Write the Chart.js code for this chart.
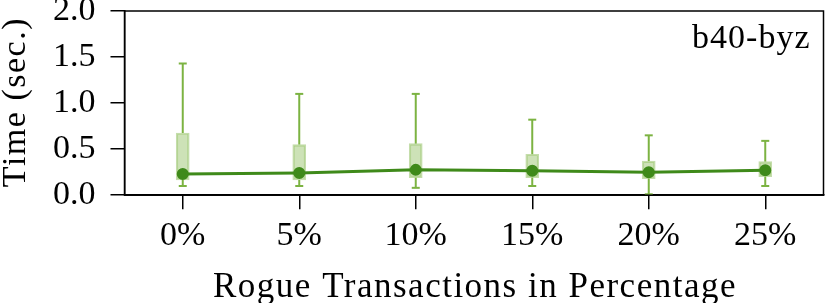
<!DOCTYPE html>
<html>
<head>
<meta charset="utf-8">
<script src="https://cdn.jsdelivr.net/npm/chart.js@4"></script>
<style>
  html, body { margin: 0; padding: 0; background: #fff; }
  #wrap { width: 831px; height: 303px; }
</style>
</head>
<body>
<div id="wrap"><canvas id="chart"></canvas></div>
<script>
const categories = ['0%', '5%', '10%', '15%', '20%', '25%'];
const whiskerLow = [0.10, 0.10, 0.08, 0.10, 0.01, 0.10];
const boxLow = [0.165, 0.165, 0.19, 0.19, 0.18, 0.20];
const medians = [0.23, 0.24, 0.275, 0.265, 0.25, 0.27];
const boxHigh = [0.675, 0.55, 0.56, 0.445, 0.37, 0.365];
const whiskerHigh = [1.43, 1.10, 1.10, 0.82, 0.65, 0.59];
const yTicks = [0, 0.5, 1.0, 1.5, 2.0];

const serif = '"Liberation Serif", "DejaVu Serif", serif';
const fontSize = 34;
const lightGreen = '#7cb342';
const darkGreen = '#3f8a1a';

// whiskers, frame, axis titles and label
const boxExtras = {
  id: 'boxExtras',
  beforeDatasetsDraw(chart) {
    const { ctx, scales: { x, y } } = chart;
    ctx.save();
    ctx.strokeStyle = lightGreen;
    ctx.lineWidth = 2;
    categories.forEach((c, i) => {
      const px = x.getPixelForValue(i);
      [[boxHigh[i], whiskerHigh[i]], [whiskerLow[i], boxLow[i]]].forEach(([a, b]) => {
        ctx.beginPath();
        ctx.moveTo(px, y.getPixelForValue(a));
        ctx.lineTo(px, y.getPixelForValue(b));
        ctx.stroke();
      });
      [whiskerHigh[i], whiskerLow[i]].forEach(v => {
        const py = y.getPixelForValue(v);
        ctx.beginPath();
        ctx.moveTo(px - 4, py);
        ctx.lineTo(px + 4, py);
        ctx.stroke();
      });
    });
    ctx.restore();
  },
  afterDraw(chart) {
    const { ctx, chartArea: a } = chart;
    ctx.save();
    ctx.strokeStyle = '#000';
    ctx.lineWidth = 1.5;
    ctx.strokeRect(a.left, a.top, a.right - a.left, a.bottom - a.top);
    ctx.fillStyle = '#000';
    ctx.font = fontSize + 'px ' + serif;
    ctx.textBaseline = 'alphabetic';
    ctx.letterSpacing = '1px';
    ctx.textAlign = 'right';
    ctx.fillText('b40-byz', a.right - 13, a.top + 37);
    ctx.font = '35px ' + serif;
    ctx.letterSpacing = '1.5px';
    ctx.textAlign = 'center';
    ctx.fillText('Rogue Transactions in Percentage', (a.left + a.right) / 2 + 1, 297);
    ctx.font = fontSize + 'px ' + serif;
    ctx.letterSpacing = '1.5px';
    ctx.translate(25, (a.top + a.bottom) / 2);
    ctx.rotate(-Math.PI / 2);
    ctx.fillText('Time (sec.)', 1, 0);
    ctx.restore();
  }
};

new Chart(document.getElementById('chart'), {
  type: 'bar',
  data: {
    labels: categories,
    datasets: [
      {
        type: 'line',
        data: medians,
        borderColor: darkGreen,
        backgroundColor: darkGreen,
        borderWidth: 3,
        pointRadius: 4.5,
        pointHoverRadius: 4.5,
        tension: 0,
        order: 0
      },
      {
        type: 'bar',
        data: categories.map((c, i) => [boxLow[i], boxHigh[i]]),
        backgroundColor: 'rgba(124,179,66,0.38)',
        borderColor: 'rgba(124,179,66,0.45)',
        borderWidth: 1.5,
        borderSkipped: false,
        barThickness: 13,
        order: 1
      }
    ]
  },
  plugins: [boxExtras],
  options: {
    responsive: true,
    maintainAspectRatio: false,
    animation: false,
    layout: { padding: { top: 11, right: 2, left: 38, bottom: 41 } },
    plugins: { legend: { display: false }, tooltip: { enabled: false } },
    scales: {
      x: {
        offset: true,
        grid: { display: true, offset: false, drawOnChartArea: false, drawTicks: true, tickLength: 14, color: '#000', lineWidth: 1.5 },
        border: { display: true, color: '#000', width: 1.5 },
        ticks: { color: '#000', font: { family: serif, size: fontSize }, padding: 6 },
        afterFit(axis) { axis.paddingLeft = 0; axis.paddingRight = 0; }
      },
      y: {
        min: 0,
        max: 2.0,
        afterBuildTicks(axis) { axis.ticks = yTicks.map(v => ({ value: v })); },
        grid: { display: true, drawOnChartArea: false, drawTicks: true, tickLength: 14, color: '#000', lineWidth: 1.5 },
        border: { display: true, color: '#000', width: 1.5 },
        ticks: { color: '#000', font: { family: serif, size: fontSize }, padding: 15, callback: v => v.toFixed(1) },
        afterFit(axis) { axis.paddingTop = 0; axis.paddingBottom = 0; }
      }
    }
  }
});
</script>
</body>
</html>
